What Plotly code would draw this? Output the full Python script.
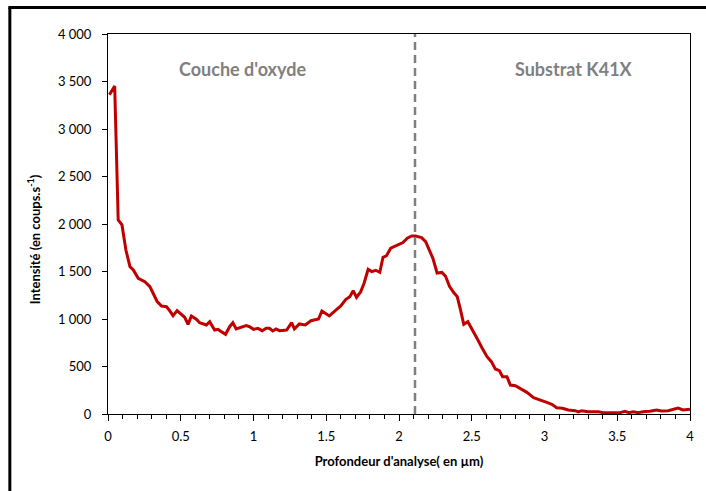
import plotly.graph_objects as go

# Depth profile (µm) and measured intensity (counts/s)
depth = [0.01, 0.046, 0.07, 0.096, 0.123, 0.151, 0.174, 0.208, 0.253, 0.288,
         0.31, 0.338, 0.368, 0.402, 0.42, 0.447, 0.475, 0.505, 0.527, 0.55,
         0.573, 0.607, 0.63, 0.676, 0.699, 0.733, 0.756, 0.779, 0.808, 0.836,
         0.858, 0.881, 0.916, 0.95, 0.973, 1.0, 1.03, 1.06, 1.087, 1.11,
         1.132, 1.155, 1.178, 1.228, 1.262, 1.281, 1.315, 1.356, 1.395, 1.447,
         1.47, 1.521, 1.562, 1.6, 1.635, 1.662, 1.685, 1.708, 1.737, 1.76,
         1.788, 1.813, 1.84, 1.868, 1.89, 1.913, 1.943, 1.977, 2.005, 2.027,
         2.057, 2.087, 2.114, 2.155, 2.183, 2.205, 2.233, 2.262, 2.295, 2.32,
         2.347, 2.377, 2.4, 2.422, 2.445, 2.473, 2.502, 2.536, 2.57, 2.605,
         2.635, 2.662, 2.69, 2.712, 2.742, 2.765, 2.8, 2.833, 2.879, 2.925,
         2.959, 2.986, 3.016, 3.05, 3.084, 3.123, 3.164, 3.21, 3.233, 3.256,
         3.3, 3.37, 3.404, 3.46, 3.518, 3.553, 3.58, 3.61, 3.644, 3.678,
         3.724, 3.77, 3.804, 3.85, 3.884, 3.918, 3.952, 4.0]
intensity = [3360, 3453, 2042, 1990, 1726, 1551, 1516, 1429, 1393, 1340,
             1271, 1183, 1137, 1130, 1095, 1035, 1088, 1042, 1018, 944,
             1032, 997, 961, 937, 972, 884, 891, 867, 839, 919,
             961, 895, 912, 930, 919, 891, 902, 877, 902, 902,
             874, 895, 877, 884, 961, 895, 948, 937, 982, 1000,
             1084, 1032, 1088, 1137, 1208, 1235, 1298, 1228, 1288, 1376,
             1523, 1499, 1513, 1492, 1650, 1664, 1745, 1769, 1797, 1804,
             1850, 1874, 1874, 1857, 1815, 1745, 1639, 1484, 1490, 1450,
             1345, 1275, 1236, 1102, 944, 972, 895, 797, 698, 603,
             551, 474, 456, 393, 393, 305, 298, 270, 228, 172,
             154, 147, 123, 102, 66, 60, 42, 35, 21, 35,
             24, 24, 14, 14, 14, 28, 14, 24, 14, 24,
             28, 42, 32, 35, 49, 63, 42, 49]

# Oxide / substrate interface depth
interface_depth = 2.11

x_ticks = [0, 0.5, 1, 1.5, 2, 2.5, 3, 3.5, 4]
y_ticks = [0, 500, 1000, 1500, 2000, 2500, 3000, 3500, 4000]

zone_labels = ["Couche d'oxyde", "Substrat K41X"]
zone_label_x = [0.925, 3.205]
zone_label_y = 3630

FONT = "Lato, 'Open Sans', sans-serif"

fig = go.Figure()

fig.add_trace(go.Scatter(
    x=depth, y=intensity, mode="lines",
    line=dict(color="#C00000", width=3),
    showlegend=False, hoverinfo="x+y",
))

# Interface marker
fig.add_shape(type="line", xref="x", yref="y",
              x0=interface_depth, x1=interface_depth, y0=0, y1=4000,
              line=dict(color="#7F7F7F", width=2.5, dash="8px,5px"))

# Frame around the whole chart
fig.add_shape(type="line", xref="paper", yref="paper",
              x0=(9.5 - 108) / 584, x1=(9.5 - 108) / 584,
              y0=(414 - 500) / 380, y1=(414 - 7.5) / 380,
              line=dict(color="black", width=3))
fig.add_shape(type="line", xref="paper", yref="paper",
              x0=(8 - 108) / 584, x1=(720 - 108) / 584,
              y0=(414 - 7.5) / 380, y1=(414 - 7.5) / 380,
              line=dict(color="black", width=3))

for txt, xl in zip(zone_labels, zone_label_x):
    fig.add_annotation(x=xl, y=zone_label_y, xref="x", yref="y", text=txt,
                       showarrow=False,
                       font=dict(family=FONT, size=18, color="#808080", weight="bold"))

# Vertical axis title
fig.add_annotation(x=(33 - 108) / 584, y=(414 - 239) / 380, xref="paper", yref="paper",
                   text="Intensité (en coups.s<sup>-1</sup>)", textangle=-90,
                   showarrow=False, xanchor="center", yanchor="middle",
                   font=dict(family=FONT, size=13, color="black", weight="bold"))

fig.update_layout(
    width=706, height=491,
    margin=dict(l=108, r=14, t=34, b=77),
    paper_bgcolor="white", plot_bgcolor="white",
    separators=". ",
    font=dict(family=FONT, size=12, color="black"),
)

fig.update_xaxes(
    range=[0, 4], tickvals=x_ticks, ticktext=[f"{v:g}" for v in x_ticks],
    showgrid=False, zeroline=False,
    showline=True, linecolor="black", linewidth=1, mirror=True,
    ticks="outside", ticklen=6, tickcolor="black",
    minor=dict(dtick=0.1, ticks="outside", ticklen=4, tickcolor="black", showgrid=False),
    tickfont=dict(size=13), ticklabelstandoff=4,
    title=dict(text="Profondeur d'analyse( en µm)", standoff=14,
               font=dict(size=13, weight="bold")),
)
fig.update_yaxes(
    range=[0, 4000], tickvals=y_ticks, ticktext=[f"{v:,}".replace(",", " ") for v in y_ticks],
    showgrid=False, zeroline=False,
    showline=True, linecolor="black", linewidth=1, mirror=True,
    ticks="outside", ticklen=5, tickcolor="black",
    tickfont=dict(size=13), ticklabelstandoff=8,
)

fig.write_html("out.html")
